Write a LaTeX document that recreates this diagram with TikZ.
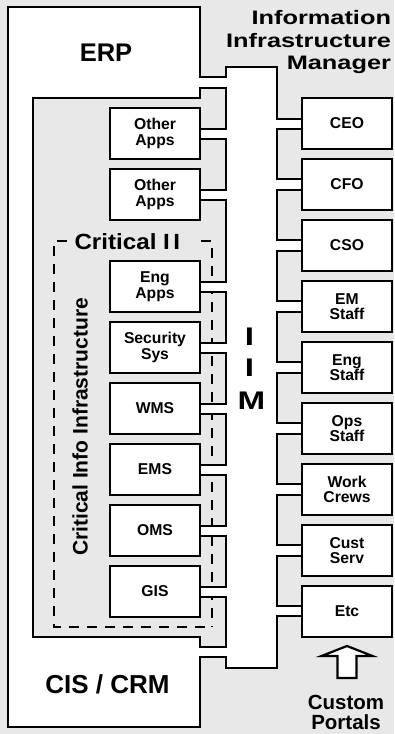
\documentclass[tikz,border=0pt]{standalone}
\usepackage{fontspec}
\setmainfont{Liberation Sans}
\definecolor{bggray}{RGB}{232,232,232}
\def\graypoly{(33,98) -- (200,98) -- (200,88) -- (226,88) -- (226,129) -- (200,129)
 -- (200,139) -- (226,139) -- (226,190) -- (200,190)
 -- (200,200) -- (226,200) -- (226,282) -- (200,282)
 -- (200,292) -- (226,292) -- (226,343) -- (200,343)
 -- (200,353) -- (226,353) -- (226,404) -- (200,404)
 -- (200,414) -- (226,414) -- (226,465) -- (200,465)
 -- (200,475) -- (226,475) -- (226,526) -- (200,526)
 -- (200,536) -- (226,536) -- (226,587) -- (200,587)
 -- (200,597) -- (226,597) -- (226,647) -- (200,647)
 -- (200,637) -- (33,637) -- cycle}
\begin{document}
\begin{tikzpicture}[x=1pt,y=-1pt,line width=2.6pt,
  box/.style={draw, fill=white, minimum width=90pt, minimum height=51pt,
    inner sep=0pt, outer sep=0pt, align=center,
    font=\fontsize{15.7}{15.5}\selectfont\bfseries},
  txt/.style={inner sep=0pt, outer sep=0pt},
  crit/.style={line width=2.7pt, dash pattern=on 10pt off 8pt}]
\useasboundingbox (0,0) rectangle (394,734);
\fill[bggray] (0,0) rectangle (394,734);
% white union of ERP/CIS frame and IIM bus
\fill[white] (200,77) -- (200,7) -- (8,7) -- (8,727) -- (200,727) -- (200,657)
  -- (226,657) -- (226,668) -- (277,668) -- (277,616) -- (302,616) -- (302,119)
  -- (277,119) -- (277,67) -- (226,67) -- (226,77) -- cycle;
% gray application area with teeth
\fill[bggray] \graypoly;
\begin{scope}
  \clip \graypoly;
  \draw[crit] (67,241) -- (54,241) -- (54,627) -- (212,627);
  \draw[crit] (201,241) -- (212,241) -- (212,627);
\end{scope}
\draw \graypoly;
% outer border
\draw (302,119) -- (277,119) -- (277,67) -- (226,67) -- (226,77) -- (200,77)
  -- (200,7) -- (8,7) -- (8,727) -- (200,727) -- (200,657) -- (226,657)
  -- (226,668) -- (277,668) -- (277,616) -- (302,616);
% right teeth
\foreach \k in {0,...,7} {
  \pgfmathsetmacro\bb{98+61*\k+51}
  \pgfmathsetmacro\nn{98+61*(\k+1)}
  \pgfmathsetmacro\ta{\bb-20}
  \pgfmathsetmacro\tb{\nn+20}
  \filldraw[fill=bggray] (302,\bb) -- (302,\ta) -- (277,\ta) -- (277,\tb) -- (302,\tb) -- (302,\nn);
}
% application boxes
\node[box] (app1) at (155,133.5) {Other\\Apps};
\node[box] (app2) at (155,194.5) {Other\\Apps};
\node[box] (eng) at (155,286.5) {Eng\\Apps};
\node[box] (sec) at (155,347.5) {Security\\Sys};
\node[box] (wms) at (155,408.5) {WMS};
\node[box] (ems) at (155,469.5) {EMS};
\node[box] (oms) at (155,530.5) {OMS};
\node[box] (gis) at (155,591.5) {GIS};
% portal boxes
\node[box] (ceo) at (347,123.5) {CEO};
\node[box] (cfo) at (347,184.5) {CFO};
\node[box] (cso) at (347,245.5) {CSO};
\node[box] (ems2) at (347,306.5) {EM\\Staff};
\node[box] (engs) at (347,367.5) {Eng\\Staff};
\node[box] (ops) at (347,428.5) {Ops\\Staff};
\node[box] (work) at (347,489.5) {Work\\Crews};
\node[box] (cust) at (347,550.5) {Cust\\Serv};
\node[box] (etc) at (347,611.5) {Etc};
% labels
\node[txt, font=\fontsize{25.5}{27}\selectfont\bfseries] (erp) at (106,52.5) {ERP};
\node[txt, font=\fontsize{26}{28}\selectfont\bfseries] (cis) at (107.5,684) {CIS / CRM};
\node[txt, anchor=base east] (iim1) at (391,24.7) {\scalebox{1.3}[1]{\fontsize{19.5}{21}\selectfont\bfseries Information}};
\node[txt, anchor=base east] (iim2) at (391,47.2) {\scalebox{1.3}[1]{\fontsize{19.5}{21}\selectfont\bfseries Infrastructure}};
\node[txt, anchor=base east] (iim3) at (391,69) {\scalebox{1.3}[1]{\fontsize{19.5}{21}\selectfont\bfseries Manager}};
\node[txt] (i1) at (249.5,336.5) {\scalebox{1.3}[1]{\fontsize{25.5}{27}\selectfont\bfseries I}};
\node[txt] (i2) at (249.5,368) {\scalebox{1.3}[1]{\fontsize{25.5}{27}\selectfont\bfseries I}};
\node[txt] (m1) at (251.5,400.5) {\scalebox{1.3}[1]{\fontsize{25.5}{27}\selectfont\bfseries M}};
\node[txt, anchor=base west] (critii) at (74.5,249.3) {\scalebox{1.1}[1]{\fontsize{22}{24}\selectfont\bfseries Critical I\kern3pt I}};
\node[txt, rotate=90, font=\fontsize{21}{23}\selectfont\bfseries] (cii) at (80,427) {Critical Info Infrastructure};
\node[txt, anchor=base, font=\fontsize{20.5}{22}\selectfont\bfseries] (cp1) at (346,709.5) {Custom};
\node[txt, anchor=base, font=\fontsize{20.5}{22}\selectfont\bfseries] (cp2) at (346,729) {Portals};
% hollow arrow
\filldraw[fill=white, line width=2.2pt] (347,646) -- (372.5,656) -- (356.5,656) -- (356.5,678)
  -- (337.5,678) -- (337.5,656) -- (321.5,656) -- cycle;
\end{tikzpicture}
\end{document}
